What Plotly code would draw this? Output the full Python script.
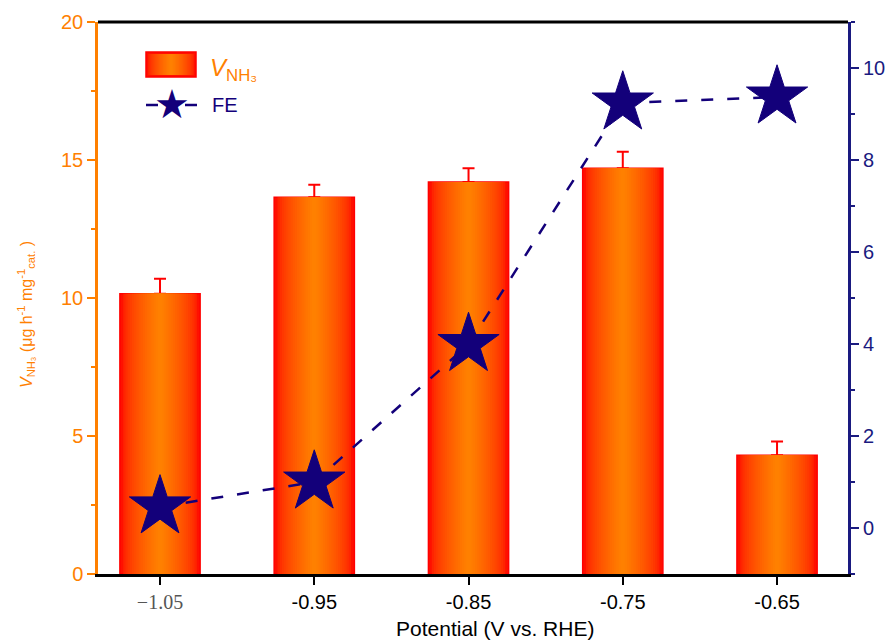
import plotly.graph_objects as go

potential = [-1.05, -0.95, -0.85, -0.75, -0.65]
tick_labels = ["−1.05", "-0.95", "-0.85", "-0.75", "-0.65"]
rate = [10.15, 13.65, 14.2, 14.7, 4.3]
rate_err = [0.55, 0.45, 0.5, 0.6, 0.5]
fe = [0.46, 1.0, 3.99, 9.24, 9.37]

ORANGE = "#FF8000"
RED = "#FF1000"
NAVY = "#1A1A80"
STAR = "#13007A"
FONT = "Liberation Sans"

L, R, T, B = 98, 37, 22, 70
PW, PH = 885 - L - R, 644 - T - B


def grad_color(t):
    f = min(1.0, (t) ** 0.6 * 1.05)
    g = int(16 + (128 - 16) * f)
    return f"rgb(255,{g},0)"


fig = go.Figure()
W = 0.052
N = 18
fig.add_trace(go.Bar(
    x=potential, y=rate, width=W, marker=dict(color=RED, line=dict(color="#FF0000", width=1.5)),
    error_y=dict(type="data", array=rate_err, arrayminus=[0] * 5, symmetric=False,
                 color="#FF0000", thickness=2, width=6),
    name="V_NH3", showlegend=False, hoverinfo="skip"))
for i in range(1, N):
    t = i / N
    fig.add_trace(go.Bar(x=potential, y=rate, width=W * (1 - t) * 0.97,
                         marker=dict(color=grad_color(t), line=dict(width=0)),
                         showlegend=False, hoverinfo="skip"))

fig.add_trace(go.Scatter(
    x=potential, y=fe, yaxis="y2", mode="lines+markers", name="FE", showlegend=False,
    line=dict(color=STAR, width=2.5, dash="12px,14px"),
    marker=dict(symbol="star", size=46, color=STAR, line=dict(color=STAR, width=1))))

fig.update_layout(
    width=885, height=644, barmode="overlay", plot_bgcolor="white", paper_bgcolor="white",
    margin=dict(l=L, r=R, t=T, b=B),
    font=dict(family=FONT, size=20, color="black"),
    xaxis=dict(range=[-1.0902, -0.604], tickvals=potential, ticktext=[
        "<span style='font-family:Liberation Serif;color:#555'>−1.05</span>"] + tick_labels[1:],
        ticks="outside", ticklen=8, tickwidth=2, tickcolor="black", automargin=False,
        showline=True, linecolor="black", linewidth=3, showgrid=False, zeroline=False,
        tickfont=dict(size=20)),
    yaxis=dict(range=[0, 20], tickvals=[0, 5, 10, 15, 20], ticks="outside", ticklen=8, tickwidth=2,
               tickcolor=ORANGE, showline=True, linecolor=ORANGE, linewidth=2.5, showgrid=False,
               zeroline=False, tickfont=dict(color=ORANGE, size=20), automargin=False,
               minor=dict(tickvals=[2.5, 7.5, 12.5, 17.5], ticks="outside", ticklen=4,
                          tickwidth=2, tickcolor=ORANGE)),
    yaxis2=dict(range=[-1, 11], overlaying="y", side="right", tickvals=[0, 2, 4, 6, 8, 10],
                ticks="outside", ticklen=8, tickwidth=2, tickcolor=NAVY, showline=True,
                linecolor=NAVY, linewidth=3, showgrid=False, zeroline=False, automargin=False,
                tickfont=dict(color=NAVY, size=20),
                minor=dict(tickvals=[-1, 1, 3, 5, 7, 9, 11], ticks="outside", ticklen=4,
                           tickwidth=2, tickcolor=NAVY)),
    showlegend=False,
)


def px_x(x):
    return (x - L) / PW


def px_y(y):
    return 1 - (y - T) / PH


def note(x, y, text, size, color, xanchor="center", angle=0, family=FONT):
    fig.add_annotation(xref="paper", yref="paper", x=px_x(x), y=px_y(y), xanchor=xanchor,
                       yanchor="middle", showarrow=False, text=text, textangle=angle,
                       font=dict(size=size, color=color, family=family))


# top frame line
fig.add_shape(type="line", xref="paper", yref="paper", x0=0, x1=1, y0=1, y1=1,
              line=dict(color="black", width=3))

# axis titles
note(495, 628, "Potential (V vs. RHE)", 21, "black")
note(26, 315, "<i>V</i><sub>NH₃</sub> (μg h<sup>-1</sup> mg<sup>-1</sup><sub>cat.</sub> )",
     16, ORANGE, angle=-90)

# legend: bar swatch with gradient
x0, x1, y0, y1 = 146, 196, 52, 77
fig.add_shape(type="rect", xref="paper", yref="paper", x0=px_x(x0), x1=px_x(x1),
              y0=px_y(y1), y1=px_y(y0), fillcolor=RED, line=dict(color="#FF0000", width=1.5))
cx, hw = (x0 + x1) / 2, (x1 - x0) / 2
for i in range(1, N):
    t = i / N
    w = hw * (1 - t) * 0.97
    fig.add_shape(type="rect", xref="paper", yref="paper", x0=px_x(cx - w), x1=px_x(cx + w),
                  y0=px_y(y1 - 2), y1=px_y(y0 + 2), fillcolor=grad_color(t), line=dict(width=0))
note(208, 69, "<i>V</i><sub>NH₃</sub>", 24, ORANGE, xanchor="left")
# legend: FE entry
for a, b in [(146, 158), (185, 197)]:
    fig.add_shape(type="line", xref="paper", yref="paper", x0=px_x(a), x1=px_x(b),
                  y0=px_y(105), y1=px_y(105), line=dict(color=STAR, width=2.5))
note(172, 104, "★", 40, STAR, family="DejaVu Sans")
note(210, 105, "FE", 20, STAR, xanchor="left")

fig.write_html("out.html")
